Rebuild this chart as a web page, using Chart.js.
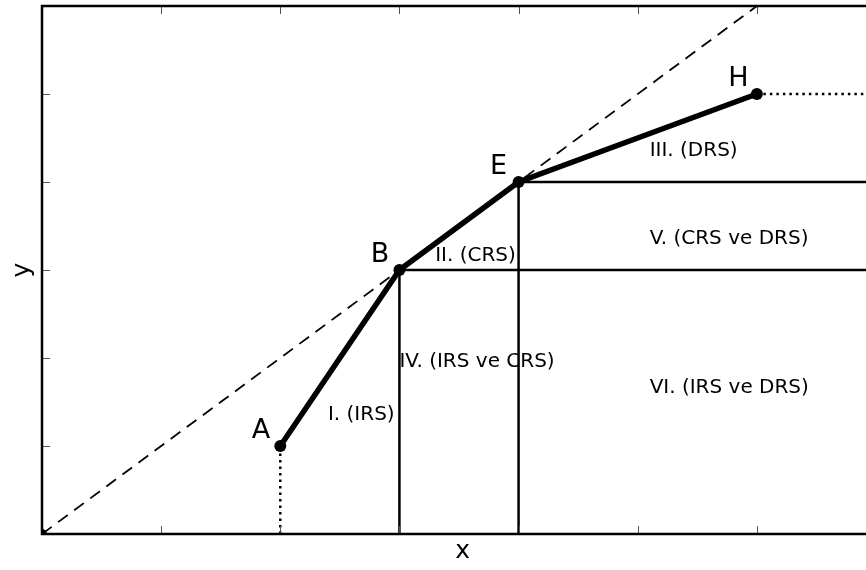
<!DOCTYPE html>
<html>
<head>
<meta charset="utf-8">
<script src="https://cdn.jsdelivr.net/npm/chart.js@4/dist/chart.umd.min.js"></script>
<style>
html,body{margin:0;padding:0;background:#fff;overflow:hidden;width:866px;height:570px;}
#wrap{width:882px;height:570px;}
</style>
</head>
<body>
<div id="wrap"><canvas id="c" width="882" height="570"></canvas></div>
<script>
// ---- data ----
const pathX = [2, 3, 4, 6];
const pathY = [1, 3, 4, 5];
const pointNames = ['A', 'B', 'E', 'H'];
const diagX = [0, 6];
const diagY = [0, 6];
const dotAX = [2, 2];
const dotAY = [0, 1];
const dotHX = [6, 7];
const dotHY = [5, 5];
const vLine1X = [3, 3];
const vLine1Y = [0, 3];
const vLine2X = [4, 4];
const vLine2Y = [0, 4];
const hLine1X = [3, 7];
const hLine1Y = [3, 3];
const hLine2X = [4, 7];
const hLine2Y = [4, 4];
const regionNames = ['I. (IRS)', 'II. (CRS)', 'III. (DRS)', 'IV. (IRS ve CRS)', 'V. (CRS ve DRS)', 'VI. (IRS ve DRS)'];
const regionX = [2.4, 3.3, 5.1, 3.0, 5.1, 5.1];
const regionY = [1.3, 3.1, 4.3, 1.9, 3.3, 1.6];
const xTicks = [0, 1, 2, 3, 4, 5, 6, 7];
const yTicks = [0, 1, 2, 3, 4, 5, 6];
const xTitle = 'x';
const yTitle = 'y';

const pts = (xs, ys) => xs.map((x, i) => ({x: x, y: ys[i]}));

function lineDs(xs, ys, width, dash, extra) {
  return Object.assign({
    data: pts(xs, ys),
    showLine: true,
    borderColor: '#000',
    backgroundColor: '#000',
    borderWidth: width,
    borderDash: dash || [],
    pointRadius: 0,
    pointHoverRadius: 0,
    tension: 0
  }, extra || {});
}

const FONT = '"DejaVu Sans", "Liberation Sans", sans-serif';

const decor = {
  id: 'decor',
  afterDatasetsDraw(chart) {
    const ctx = chart.ctx;
    const xs = chart.scales.x, ys = chart.scales.y;
    const a = chart.chartArea;
    ctx.save();
    // text annotations
    ctx.fillStyle = '#000';
    ctx.textAlign = 'left';
    ctx.textBaseline = 'alphabetic';
    ctx.font = '20px ' + FONT;
    regionNames.forEach((t, i) => {
      ctx.fillText(t, xs.getPixelForValue(regionX[i]), ys.getPixelForValue(regionY[i]));
    });
    ctx.font = '27px ' + FONT;
    pointNames.forEach((t, i) => {
      ctx.fillText(t, xs.getPixelForValue(pathX[i] - 0.24), ys.getPixelForValue(pathY[i] + 0.09));
    });
    // ticks (inward)
    ctx.strokeStyle = '#555';
    ctx.lineWidth = 1;
    ctx.beginPath();
    xTicks.forEach(v => {
      const px = Math.round(xs.getPixelForValue(v)) + 0.5;
      ctx.moveTo(px, a.bottom); ctx.lineTo(px, a.bottom - 8);
      ctx.moveTo(px, a.top); ctx.lineTo(px, a.top + 8);
    });
    yTicks.forEach(v => {
      const py = Math.round(ys.getPixelForValue(v)) + 0.5;
      ctx.moveTo(a.left, py); ctx.lineTo(a.left + 8, py);
      ctx.moveTo(a.right, py); ctx.lineTo(a.right - 8, py);
    });
    ctx.stroke();
    // spines
    ctx.strokeStyle = '#000';
    ctx.lineWidth = 2.5;
    ctx.strokeRect(a.left, a.top, a.right - a.left, a.bottom - a.top);
    // axis titles
    ctx.font = '25px ' + FONT;
    ctx.textAlign = 'center';
    ctx.textBaseline = 'alphabetic';
    ctx.fillText(xTitle, xs.getPixelForValue(3.53), 558);
    ctx.save();
    ctx.translate(29, ys.getPixelForValue(3));
    ctx.rotate(-Math.PI / 2);
    ctx.fillText(yTitle, 0, 0);
    ctx.restore();
    ctx.restore();
  }
};

new Chart(document.getElementById('c'), {
  type: 'scatter',
  data: {
    datasets: [
      lineDs(diagX, diagY, 1.8, [12, 8]),
      lineDs(dotAX, dotAY, 2.5, [2.5, 4]),
      lineDs(dotHX, dotHY, 2.5, [2.5, 4]),
      lineDs(vLine1X, vLine1Y, 2.5),
      lineDs(vLine2X, vLine2Y, 2.5),
      lineDs(hLine1X, hLine1Y, 2.5),
      lineDs(hLine2X, hLine2Y, 2.5),
      lineDs(pathX, pathY, 5.5, [], {pointRadius: 6, pointBorderWidth: 0}),
      lineDs([0], [0], 0, [], {showLine: false, pointRadius: 5, pointBorderWidth: 0})
    ]
  },
  options: {
    responsive: false,
    animation: false,
    events: [],
    layout: {padding: {left: 42, right: 2, top: 1, bottom: 36}},
    plugins: {legend: {display: false}, tooltip: {enabled: false}},
    scales: {
      x: {type: 'linear', min: 0, max: 7, display: false},
      y: {type: 'linear', min: 0, max: 6, display: false}
    }
  },
  plugins: [decor]
});
</script>
</body>
</html>
